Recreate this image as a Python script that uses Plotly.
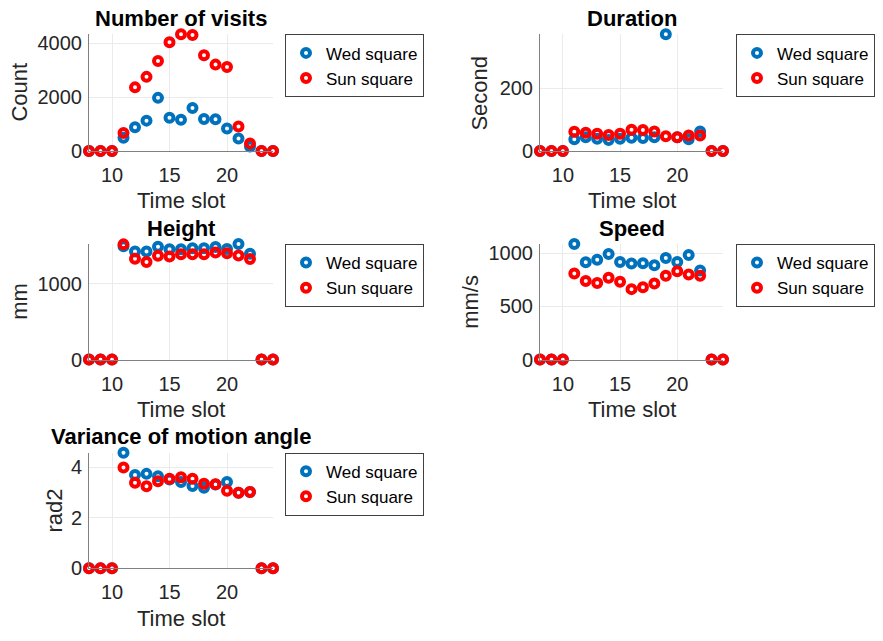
import plotly.graph_objects as go

# Time slots (hour of day)
slots = list(range(8, 25))

# Number of visits
visits_wed = [0, 0, 0, 490, 880, 1125, 1970, 1235, 1160, 1590, 1185, 1175, 830, 465, 160, 0, 0]
visits_sun = [0, 0, 0, 670, 2360, 2750, 3340, 4035, 4330, 4305, 3550, 3205, 3120, 905, 280, 0, 0]

# Duration (s)
duration_wed = [0, 0, 0, 37, 44, 39, 35, 39, 42, 41, 44, 373, 44, 37, 62, 0, 0]
duration_sun = [0, 0, 0, 61, 58, 55, 51, 55, 68, 67, 62, 47, 44, 49, 49, 0, 0]

# Height (mm)
height_wed = [0, 0, 0, 1492, 1422, 1422, 1487, 1453, 1453, 1466, 1466, 1483, 1457, 1522, 1392, 0, 0]
height_sun = [0, 0, 0, 1517, 1328, 1284, 1366, 1358, 1388, 1388, 1388, 1409, 1401, 1371, 1323, 0, 0]

# Speed (mm/s)
speed_wed = [0, 0, 0, 1086, 914, 938, 991, 917, 902, 905, 886, 954, 917, 982, 837, 0, 0]
speed_sun = [0, 0, 0, 809, 738, 720, 769, 732, 662, 680, 714, 788, 831, 800, 788, 0, 0]

# Variance of motion angle (rad^2)
angle_wed = [0, 0, 0, 4.58, 3.70, 3.74, 3.65, 3.52, 3.42, 3.26, 3.19, 3.32, 3.42, 2.99, 3.02, 0, 0]
angle_sun = [0, 0, 0, 3.99, 3.39, 3.25, 3.45, 3.55, 3.61, 3.55, 3.35, 3.33, 3.07, 2.99, 3.02, 0, 0]

panels = [
    ("Number of visits", "Count", visits_wed, visits_sun, 2000),
    ("Duration", "Second", duration_wed, duration_sun, 200),
    ("Height", "mm", height_wed, height_sun, 1000),
    ("Speed", "mm/s", speed_wed, speed_sun, 500),
    ("Variance of motion angle", "rad2", angle_wed, angle_sun, 2),
]

W, H = 883, 641
FONT = "Liberation Sans, Arial, Helvetica, sans-serif"
BLUE = "#0072BD"
RED = "#FF0000"
INK = "#262626"

# pixel boxes of each axes: (left, right, top, bottom)
boxes = [
    (89, 273, 33, 152),
    (540, 723, 33, 152),
    (89, 273, 247, 365),
    (540, 723, 247, 365),
    (89, 273, 460, 578),
]


def px(x):
    return x / W


def py(y):
    return 1 - y / H


fig = go.Figure()
annotations = []

for i, ((title, ylab, wed, sun, dtick), (l, r, t, b)) in enumerate(zip(panels, boxes)):
    n = i + 1
    xa = "x" if n == 1 else f"x{n}"
    ya = "y" if n == 1 else f"y{n}"
    lg = "legend" if n == 1 else f"legend{n}"
    for name, vals, col in (("Wed square", wed, BLUE), ("Sun square", sun, RED)):
        fig.add_trace(go.Scatter(
            x=slots, y=vals, mode="markers", name=name,
            xaxis=xa, yaxis=ya, legend=lg, cliponaxis=False,
            marker=dict(symbol="circle-open", size=8, color=col,
                        line=dict(width=4, color=col)),
        ))
    ymax = max(max(wed), max(sun))
    axis_common = dict(
        showline=True, linecolor="#808080", linewidth=1, mirror=False,
        showgrid=True, gridcolor="#ebebeb", gridwidth=1,
        zeroline=False, ticks="",
        tickfont=dict(family=FONT, size=20, color=INK),
    )
    fig.layout[f"xaxis{'' if n == 1 else n}"] = dict(
        axis_common, domain=[px(l), px(r)], range=[8, 24],
        tickvals=[10, 15, 20], anchor=ya, ticklabelstandoff=6,
    )
    fig.layout[f"yaxis{'' if n == 1 else n}"] = dict(
        axis_common, domain=[py(b), py(t)], range=[0, ymax],
        dtick=dtick, tick0=0, anchor=xa, ticklabelstandoff=2,
    )
    fig.layout[lg] = dict(
        x=px(l + 196), y=py(t), xanchor="left", yanchor="top",
        bgcolor="white", bordercolor="#404040", borderwidth=1,
        font=dict(family=FONT, size=17, color="black"),
        itemsizing="trace", tracegroupgap=0,
    )
    cx = (l + r) / 2
    annotations.append(dict(
        text=f"<b>{title}</b>", x=px(cx), y=py(t - 16), xref="paper", yref="paper",
        showarrow=False, font=dict(family=FONT, size=22, color="black"),
        xanchor="center", yanchor="middle",
    ))
    annotations.append(dict(
        text="Time slot", x=px(cx), y=py(b + 51), xref="paper", yref="paper",
        showarrow=False, font=dict(family=FONT, size=22, color=INK),
        xanchor="center", yanchor="middle",
    ))
    tick_w = {1: 47, 2: 38, 3: 47, 4: 47, 5: 13}[n]
    annotations.append(dict(
        text=ylab, x=px(l - tick_w - 22), y=py((t + b) / 2), xref="paper", yref="paper",
        showarrow=False, textangle=-90, font=dict(family=FONT, size=22, color=INK),
        xanchor="center", yanchor="middle",
    ))

fig.update_layout(
    width=W, height=H, margin=dict(l=0, r=0, t=0, b=0),
    paper_bgcolor="white", plot_bgcolor="white",
    annotations=annotations, showlegend=True,
)

fig.write_html("out.html")
